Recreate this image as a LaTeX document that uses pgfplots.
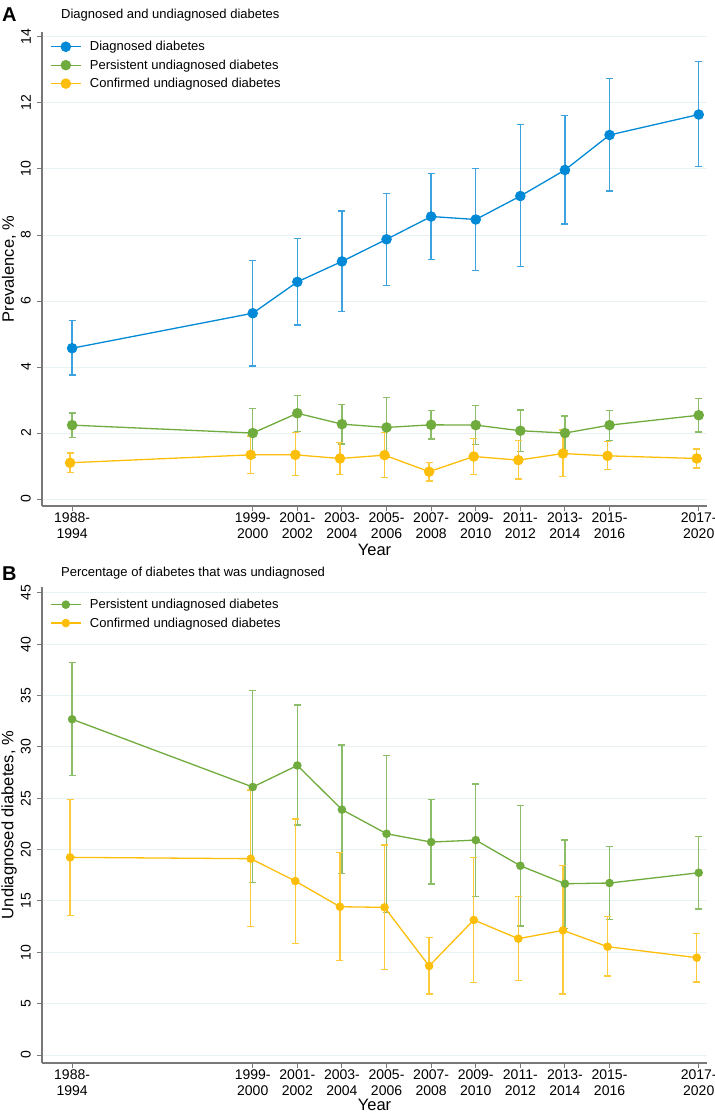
\documentclass[border=0pt]{standalone}
\usepackage{fontspec}
\setmainfont{Liberation Sans}
\usepackage{pgfplots}
\usepackage{pgfplotstable}
\pgfplotsset{compat=1.18}

\definecolor{cblue}{RGB}{0,137,214}
\definecolor{cbluel}{RGB}{60,162,224}
\definecolor{cgreen}{RGB}{112,171,62}
\definecolor{cgreenl}{RGB}{140,190,105}
\definecolor{cyell}{RGB}{253,190,10}
\definecolor{cyelll}{RGB}{253,202,60}
\definecolor{cgrid}{RGB}{232,241,243}
\definecolor{caxis}{RGB}{120,120,120}

% Panel A
\pgfplotstableread{
x y lo hi
1991.4 4.57 3.76 5.42
1999.5 5.63 4.03 7.23
2001.5 6.58 5.27 7.89
2003.5 7.20 5.68 8.73
2005.5 7.87 6.48 9.26
2007.5 8.56 7.25 9.87
2009.5 8.47 6.93 10.01
2011.5 9.18 7.04 11.34
2013.5 9.97 8.33 11.62
2015.5 11.03 9.33 12.74
2019.5 11.65 10.07 13.26
}\diagA
\pgfplotstableread{
x y lo hi
1991.4 2.24 1.86 2.61
1999.5 2.00 1.26 2.74
2001.5 2.60 2.04 3.14
2003.5 2.27 1.67 2.87
2005.5 2.17 1.26 3.08
2007.5 2.25 1.82 2.68
2009.5 2.24 1.66 2.83
2011.5 2.07 1.44 2.70
2013.5 2.00 1.48 2.52
2015.5 2.24 1.77 2.68
2019.5 2.54 2.03 3.04
}\persA
\pgfplotstableread{
x y lo hi
1991.31 1.10 0.80 1.40
1999.41 1.34 0.78 1.91
2001.41 1.34 0.71 2.01
2003.41 1.23 0.75 1.72
2005.41 1.33 0.66 2.02
2007.41 0.83 0.55 1.11
2009.41 1.29 0.75 1.83
2011.41 1.18 0.61 1.78
2013.41 1.38 0.69 2.09
2015.41 1.31 0.89 1.75
2019.41 1.23 0.94 1.52
}\confA
% Panel B
\pgfplotstableread{
x y lo hi
1991.4 32.70 27.20 38.20
1999.5 26.10 16.80 35.50
2001.5 28.20 22.40 34.10
2003.5 23.90 17.70 30.20
2005.5 21.55 13.90 29.20
2007.5 20.74 16.65 24.90
2009.5 20.93 15.45 26.40
2011.5 18.43 12.56 24.30
2013.5 16.68 12.33 20.93
2015.5 16.75 13.21 20.28
2019.5 17.75 14.21 21.29
}\persB
\pgfplotstableread{
x y lo hi
1991.31 19.25 13.57 24.90
1999.41 19.12 12.50 25.80
2001.41 16.94 10.88 23.00
2003.41 14.44 9.18 19.74
2005.41 14.38 8.31 20.45
2007.41 8.67 5.94 11.42
2009.41 13.15 7.08 19.25
2011.41 11.33 7.27 15.45
2013.41 12.14 5.94 18.43
2015.41 10.55 7.69 13.47
2019.41 9.48 7.11 11.81
}\confB

\pgfplotsset{
  /pgfplots/table/ci/.style={x=x, y=y,
    y error plus expr=\thisrow{hi}-\thisrow{y},
    y error minus expr=\thisrow{y}-\thisrow{lo}},
  panel/.style={
    scale only axis, width=665pt,
    xmin=1990.05, xmax=2019.87,
    axis x line*=bottom, axis y line*=left,
    axis line style={draw=caxis, line width=1.3pt},
    tick align=outside, major tick length=5pt,
    every tick/.style={draw=caxis, line width=1pt},
    xtick={1991.4,1999.5,2001.5,2003.5,2005.5,2007.5,2009.5,2011.5,2013.5,2015.5,2019.5},
    xticklabels={{1988-\\1994},{1999-\\2000},{2001-\\2002},{2003-\\2004},{2005-\\2006},{2007-\\2008},{2009-\\2010},{2011-\\2012},{2013-\\2014},{2015-\\2016},{2017-\\2020}},
    xticklabel style={align=center, inner sep=0pt, font=\fontsize{14}{15.5}\selectfont},
    xticklabel shift=2pt,
    yticklabel style={rotate=90, anchor=south, inner sep=0pt, font=\fontsize{14}{15}\selectfont},
    yticklabel shift=6pt,
    /pgf/number format/assume math mode=true,
    ymajorgrids, grid style={cgrid, line width=1pt},
    xlabel={Year},
    label style={font=\fontsize{16.5}{18}\selectfont},
    legend cell align=left,
    legend image code/.code={\draw[mark repeat=2,mark phase=2,#1] plot coordinates {(0pt,0pt) (15pt,0pt) (30pt,0pt)};},
    legend style={draw=none, fill=none, anchor=north west, inner sep=0pt,
      font=\fontsize{13}{15}\selectfont, row sep=4.5pt, column sep=7pt,
      nodes={inner sep=1.5pt}},
    clip=false,
  },
  ser/.style n args={3}{#1, line width=1.3pt, mark=*, mark size=#3,
    mark options={fill=#1, draw=none},
    error bars/y dir=both, error bars/y explicit,
    error bars/error bar style={#2, line width=1.3pt},
    error bars/error mark options={rotate=90, mark size=3.5pt, line width=1.3pt, #2}},
}

\begin{document}
\begin{tikzpicture}
\useasboundingbox (0,0) rectangle (715pt,-1117pt);

\begin{axis}[panel, height=474pt, at={(42pt,-506pt)}, anchor=south west,
  ymin=-0.21, ymax=14.15, ytick={0,2,4,6,8,10,12,14},
  ylabel={Prevalence, \%},
  ylabel style={at={(axis description cs:-0.0496,0.5)}, anchor=center},
  xlabel style={at={(axis description cs:0.5,-0.0928)}, anchor=center},
  legend style={at={(axis description cs:0.012,0.984)}},
]
\addplot[ser={cblue}{cbluel}{4.6pt}] table[ci] {\diagA};
\addlegendentry{Diagnosed diabetes}
\addplot[ser={cgreen}{cgreenl}{4.6pt}] table[ci] {\persA};
\addlegendentry{Persistent undiagnosed diabetes}
\addplot[ser={cyell}{cyelll}{4.6pt}] table[ci] {\confA};
\addlegendentry{Confirmed undiagnosed diabetes}
\end{axis}

\begin{axis}[panel, height=476pt, at={(42pt,-1063pt)}, anchor=south west,
  ymin=-0.78, ymax=45.58, ytick={0,5,10,15,20,25,30,35,40,45},
  ylabel={Undiagnosed diabetes, \%},
  ylabel style={at={(axis description cs:-0.0496,0.5)}, anchor=center},
  xlabel style={at={(axis description cs:0.5,-0.0882)}, anchor=center},
  legend style={at={(axis description cs:0.012,0.978)}},
]
\addplot[ser={cgreen}{cgreenl}{3.6pt}] table[ci] {\persB};
\addlegendentry{Persistent undiagnosed diabetes}
\addplot[ser={cyell}{cyelll}{3.6pt}] table[ci] {\confB};
\addlegendentry{Confirmed undiagnosed diabetes}
\end{axis}

\node[anchor=west, inner sep=0pt, font=\fontsize{20}{22}\selectfont\bfseries] at (2pt,-15pt) {A};
\node[anchor=west, inner sep=0pt, font=\fontsize{13}{15}\selectfont] at (61pt,-15pt) {Diagnosed and undiagnosed diabetes};
\node[anchor=west, inner sep=0pt, font=\fontsize{20}{22}\selectfont\bfseries] at (2pt,-574pt) {B};
\node[anchor=west, inner sep=0pt, font=\fontsize{13}{15}\selectfont] at (61pt,-573pt) {Percentage of diabetes that was undiagnosed};
\end{tikzpicture}
\end{document}
